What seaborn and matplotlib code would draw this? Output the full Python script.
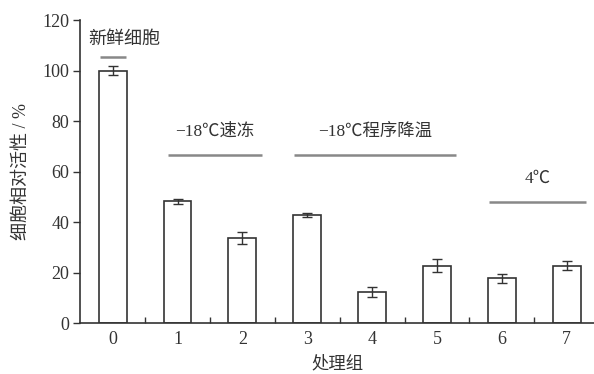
import matplotlib
matplotlib.use('Agg')
import matplotlib.pyplot as plt
import numpy as np
import pandas as pd
import seaborn as sns

groups = ['0', '1', '2', '3', '4', '5', '6', '7']
activity = [100, 48.2, 33.8, 42.7, 12.4, 22.8, 17.7, 22.8]
err = [1.8, 0.9, 2.3, 0.8, 2.0, 2.6, 1.9, 1.8]

# bracket labels: text, start group, end group, line height
brackets = [('新鲜细胞', -0.2, 0.2, 105.5),
            ('−18℃速冻', 0.86, 2.3, 66.5),
            ('−18℃程序降温', 2.8, 5.3, 66.5),
            ('4℃', 5.8, 7.3, 48)]

sns.set_style('ticks')
plt.rcParams['font.family'] = ['Liberation Serif', 'Noto Sans CJK SC']

df = pd.DataFrame({'group': groups, 'activity': activity})
fig = plt.figure(figsize=(5.94, 3.74), dpi=100)
ax = fig.add_axes([0.135, 0.136, 0.865, 0.81])
sns.barplot(data=df, x='group', y='activity', color='white', edgecolor='#333333',
            linewidth=1.2, width=0.43, ax=ax, saturation=1)
ax.errorbar(np.arange(len(groups)), activity, yerr=err, fmt='none', ecolor='#333333',
            elinewidth=1, capsize=3.5, capthick=1)

txt = '#333333'
for label, x0, x1, yv in brackets:
    ax.plot([x0, x1], [yv, yv], color='#888888', lw=1.8, solid_capstyle='butt')
    if label == '新鲜细胞':
        ax.text(x0 - 0.17, yv + 3.5, label, ha='left', va='bottom', fontsize=13, color=txt)
    else:
        ax.text((x0 + x1) / 2, yv + 6, label, ha='center', va='bottom', fontsize=12.5, color=txt)

ax.set_xlim(-0.5, 7.42)
ax.set_ylim(0, 120)
ax.set_yticks(range(0, 121, 20))
ax.set_xticks(range(8))
ax.set_xticklabels(groups)
ax.tick_params(axis='x', length=0, labelsize=13, colors=txt, pad=6)
ax.tick_params(axis='y', length=5, width=1, labelsize=13, colors=txt, pad=3)
ax.set_xticks(np.arange(0.5, 7, 1), minor=True)
ax.tick_params(axis='x', which='minor', direction='in', length=4, width=1, color='#333333')
for s in ['top', 'right']:
    ax.spines[s].set_visible(False)
for s in ['left', 'bottom']:
    ax.spines[s].set_color('#333333')
    ax.spines[s].set_linewidth(1.2)
ax.set_xlabel('处理组', fontsize=12.5, color=txt, labelpad=5)
ax.set_ylabel('细胞相对活性 / %', fontsize=13, color=txt)
ax.yaxis.set_label_coords(-0.098, 0.5)

fig.savefig('out.png', dpi=100)
